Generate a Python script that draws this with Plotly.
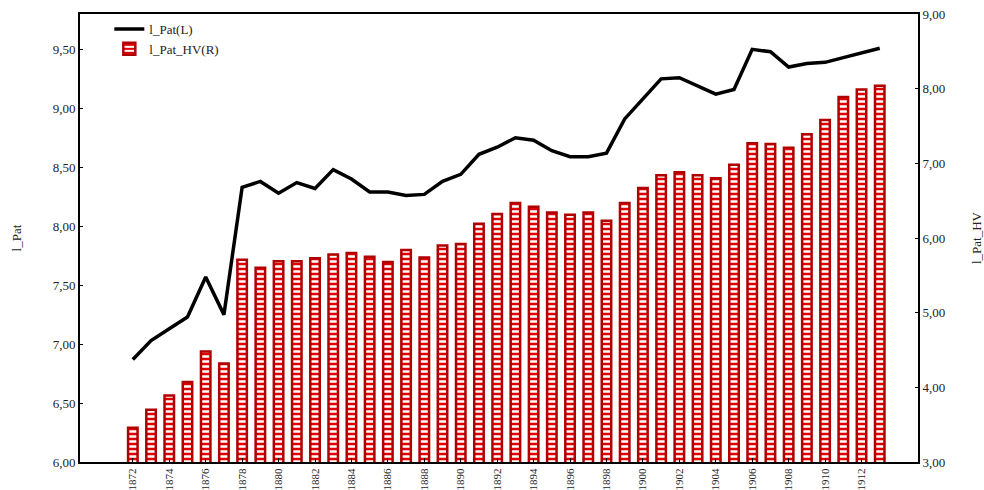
import plotly.graph_objects as go

years = list(range(1872, 1914))
l_pat = [6.87, 7.03, 7.13, 7.23, 7.57, 7.25, 8.33, 8.38, 8.28, 8.37, 8.32, 8.48, 8.40, 8.29,
         8.29, 8.26, 8.27, 8.38, 8.44, 8.61, 8.67, 8.75, 8.73, 8.64, 8.59, 8.59, 8.62, 8.91,
         9.08, 9.25, 9.26, 9.19, 9.12, 9.16, 9.50, 9.48, 9.35, 9.38, 9.39, 9.43, 9.47, 9.51]
l_pat_hv = [3.46, 3.70, 3.89, 4.07, 4.48, 4.32, 5.71, 5.60, 5.69, 5.69, 5.73, 5.78, 5.80, 5.75,
            5.68, 5.84, 5.74, 5.90, 5.92, 6.19, 6.32, 6.47, 6.42, 6.34, 6.31, 6.34, 6.23, 6.47,
            6.67, 6.84, 6.88, 6.84, 6.80, 6.98, 7.27, 7.26, 7.21, 7.39, 7.58, 7.89, 7.99, 8.04]
x_ticks = list(range(1872, 1913, 2))

font = "Liberation Serif, Times New Roman, serif"

fig = go.Figure()
fig.add_trace(go.Bar(
    x=years, y=l_pat_hv, name="l_Pat_HV(R)", yaxis="y2", width=0.52,
    marker=dict(color="#e00000",
                line=dict(color="#b00000", width=2.5),
                pattern=dict(shape="-", fgcolor="white", bgcolor="#e00000",
                             fgopacity=1, size=5, solidity=0.5)),
))
fig.add_trace(go.Scatter(
    x=years, y=l_pat, name="l_Pat(L)", mode="lines",
    line=dict(color="black", width=3.5),
))

fig.update_layout(
    width=984, height=490,
    margin=dict(l=80, r=66, t=14, b=28),
    paper_bgcolor="white", plot_bgcolor="white",
    separators=",.",
    font=dict(family=font, size=13, color="#222"),
    showlegend=True,
    legend=dict(x=0.035, y=1.0, xanchor="left", yanchor="top",
                traceorder="reversed", bgcolor="rgba(0,0,0,0)",
                font=dict(family=font, size=13, color="#222"), itemwidth=30,
                tracegroupgap=0),
    xaxis=dict(range=[1869.1, 1915.1], tickmode="array", tickvals=x_ticks,
               tickangle=-90, showgrid=False, zeroline=False,
               showline=True, linecolor="black", linewidth=2, mirror=True,
               ticks="inside", ticklen=4, tickcolor="black",
               automargin=False, tickfont=dict(size=11)),
    yaxis=dict(range=[6, 9.8], dtick=0.5, tick0=6, tickformat=".2f",
               showgrid=False, zeroline=False,
               showline=True, linecolor="black", linewidth=2,
               ticks="inside", ticklen=3, tickcolor="black",
               title=dict(text="l_Pat", standoff=28, font=dict(size=13, color="#222")),
               automargin=False),
    yaxis2=dict(range=[3, 9], dtick=1, tick0=3, tickformat=".2f",
                overlaying="y", side="right",
                showgrid=False, zeroline=False,
                showline=True, linecolor="black", linewidth=2,
                ticks="inside", ticklen=3, tickcolor="black",
                title=dict(text="l_Pat_HV", standoff=30, font=dict(size=13, color="#222")),
                automargin=False),
)

fig.write_html("out.html")
